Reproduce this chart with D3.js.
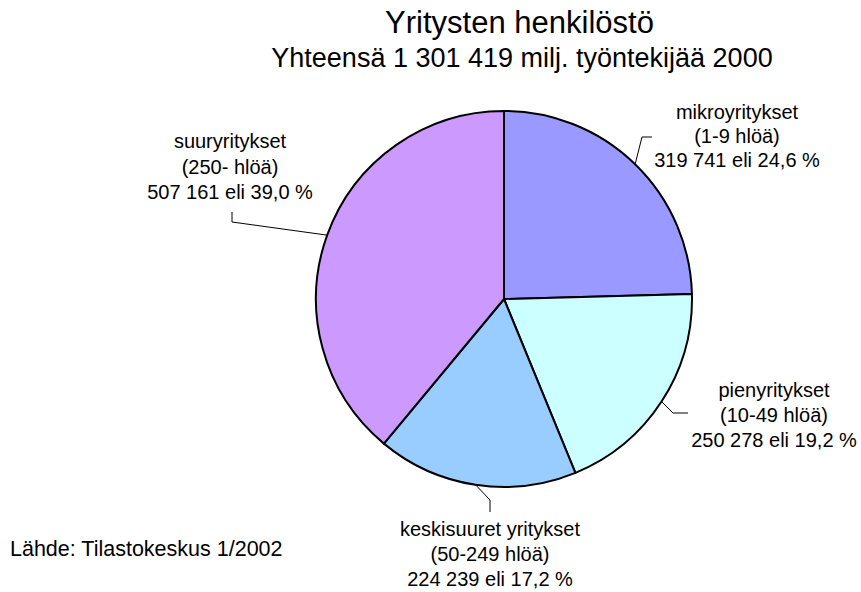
<!DOCTYPE html>
<html><head><meta charset="utf-8">
<script src="https://cdn.jsdelivr.net/npm/d3@7"></script>
<style>body{margin:0;background:#fff}svg{display:block}text{font-family:"Liberation Sans",Arial,sans-serif;fill:#000}</style>
</head><body>
<script>
const categories = ["mikroyritykset","pienyritykset","keskisuuret yritykset","suuryritykset"];
const sizeClasses = ["(1-9 hlöä)","(10-49 hlöä)","(50-249 hlöä)","(250- hlöä)"];
const employees = [319741, 250278, 224239, 507161];
const shares = ["24,6","19,2","17,2","39,0"];
const colors = ["#9999FF","#CCFFFF","#99CCFF","#CC99FF"];
const title = "Yritysten henkilöstö";
const subtitle = "Yhteensä 1 301 419 milj. työntekijää 2000";
const source = "Lähde: Tilastokeskus 1/2002";

// layout
const W=861,H=592, cx=504, cy=299, R=188;
const labelPos = [
  {x:737, y:119, elbow:[642,137], end:[652,137]},
  {x:774, y:397, elbow:[673,413], end:[688,413]},
  {x:490, y:536, elbow:[490,500], end:[490,512]},
  {x:230, y:148, elbow:[232,222], end:[232,212]}
];
const lineH = [24, 25, 25, 25.5];

const svg=d3.select("body").append("svg").attr("width",W).attr("height",H);
svg.append("text").attr("x",519.5).attr("y",33).attr("text-anchor","middle").attr("font-size",31).text(title);
svg.append("text").attr("x",522).attr("y",67).attr("text-anchor","middle").attr("font-size",27).text(subtitle);

const fmt = v => d3.format(",")(v).replace(/,/g," ");
const pie=d3.pie().sort(null).value(d=>d)(employees);
const arc=d3.arc().innerRadius(0).outerRadius(R);
const g=svg.append("g").attr("transform",`translate(${cx},${cy})`);
g.selectAll("path").data(pie).join("path").attr("d",arc)
  .attr("fill",(d,i)=>colors[i]).attr("stroke","#000").attr("stroke-width",2).attr("stroke-linejoin","round");

pie.forEach((d,i)=>{
  const a=(d.startAngle+d.endAngle)/2;
  const p=[cx+R*Math.sin(a), cy-R*Math.cos(a)];
  const L=labelPos[i];
  svg.append("polyline").attr("points",[p,L.elbow,L.end].map(q=>q.join(",")).join(" "))
    .attr("fill","none").attr("stroke","#000").attr("stroke-width",1);
  const t=svg.append("text").attr("text-anchor","middle").attr("font-size",20);
  [categories[i], sizeClasses[i], `${fmt(employees[i])} eli ${shares[i]} %`].forEach((s,k)=>{
    t.append("tspan").attr("x",L.x).attr("y",L.y+k*lineH[i]).text(s);
  });
});
svg.append("text").attr("x",10).attr("y",556).attr("font-size",21.5).text(source);
</script>
</body></html>
